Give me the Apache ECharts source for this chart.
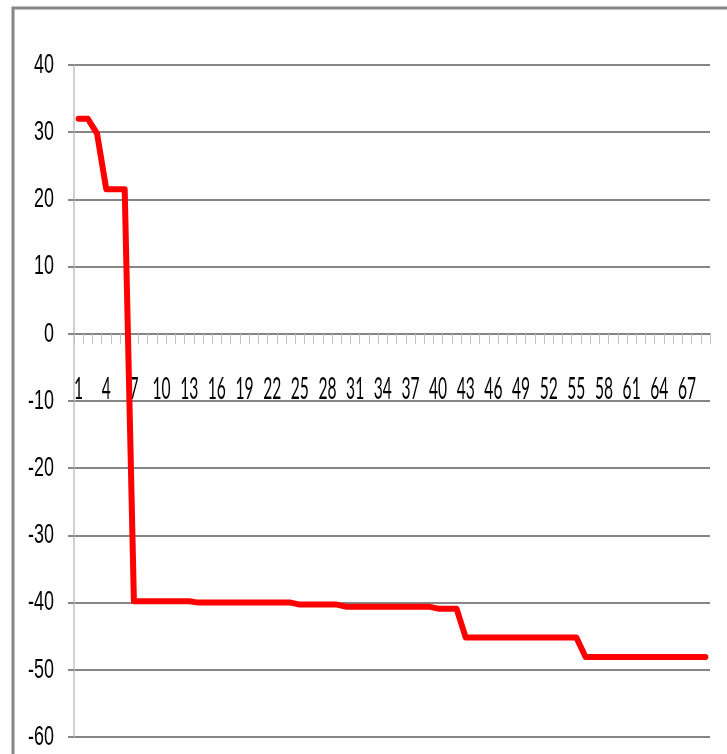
<!DOCTYPE html>
<html>
<head>
<meta charset="utf-8">
<script src="https://cdn.jsdelivr.net/npm/echarts@6/dist/echarts.min.js"></script>
<style>
  html, body { margin: 0; padding: 0; background: #ffffff; }
  #chart { width: 727px; height: 754px; }
</style>
</head>
<body>
<div id="chart"></div>
<script>
// Category positions 1..69 along the horizontal axis
const categories = [];
for (let i = 1; i <= 69; i++) categories.push(String(i));

// Series values, one per category
const values = [
  32, 32, 29.8, 21.5, 21.5, 21.5,
  -39.8, -39.8, -39.8, -39.8, -39.8, -39.8, -39.8,
  -40.0, -40.0, -40.0, -40.0, -40.0, -40.0, -40.0, -40.0, -40.0, -40.0, -40.0,
  -40.3, -40.3, -40.3, -40.3, -40.3,
  -40.6, -40.6, -40.6, -40.6, -40.6, -40.6, -40.6, -40.6, -40.6, -40.6,
  -40.9, -40.9, -40.9,
  -45.2, -45.2, -45.2, -45.2, -45.2, -45.2, -45.2, -45.2, -45.2, -45.2, -45.2, -45.2, -45.2,
  -48.1, -48.1, -48.1, -48.1, -48.1, -48.1, -48.1, -48.1, -48.1, -48.1, -48.1, -48.1, -48.1, -48.1
];

// Value axis range and tick labels
const yMin = -60;
const yMax = 40;
const yStep = 10;
const yTickLabels = ['-60', '-50', '-40', '-30', '-20', '-10', '0', '10', '20', '30', '40'];

// Every third category carries a label
const xLabelStep = 3;

const GRID = { left: 74, right: 17, top: 65, bottom: 17 };

const chart = echarts.init(document.getElementById('chart'), null, { renderer: 'canvas' });

chart.setOption({
  animation: false,
  backgroundColor: '#ffffff',
  grid: Object.assign({ containLabel: false, outerBoundsMode: 'none' }, GRID),
  xAxis: {
    type: 'category',
    data: categories,
    boundaryGap: true,
    axisLine: { show: true, onZero: true, lineStyle: { color: '#868686', width: 2 } },
    axisTick: { show: true, interval: 0, length: 10, lineStyle: { color: '#c0c0c0', width: 1 } },
    axisLabel: { show: false },
    splitLine: { show: false }
  },
  yAxis: {
    type: 'value',
    min: yMin,
    max: yMax,
    interval: yStep,
    axisLine: { show: true, lineStyle: { color: '#c0c0c0', width: 1.5 } },
    axisTick: { show: true, length: 6, lineStyle: { color: '#868686', width: 2 } },
    axisLabel: { show: false },
    splitLine: { show: true, lineStyle: { color: '#868686', width: 2 } }
  },
  series: [{
    type: 'line',
    data: values,
    symbol: 'none',
    smooth: false,
    lineStyle: { color: '#ff0000', width: 6, cap: 'round', join: 'round' },
    z: 5
  }]
});

// Tick labels in a narrow face: placed through the axes' own scales and
// squeezed horizontally.
const graphics = [{
  type: 'rect',
  shape: { x: 13, y: 8, width: 900, height: 900 },
  style: { fill: 'none', stroke: '#868686', lineWidth: 3 },
  silent: true
}];

yTickLabels.forEach(function (txt) {
  const v = Number(txt);
  const py = chart.convertToPixel({ yAxisIndex: 0 }, v);
  graphics.push({
    type: 'text',
    x: GRID.left - 20,
    y: py,
    scaleX: 0.64,
    silent: true,
    style: {
      text: txt,
      font: '28px "Liberation Sans", Arial, sans-serif',
      fill: '#000000',
      textAlign: 'right',
      textVerticalAlign: 'middle'
    }
  });
});

const zeroY = chart.convertToPixel({ yAxisIndex: 0 }, 0);
for (let i = 0; i < categories.length; i += xLabelStep) {
  const px = chart.convertToPixel({ xAxisIndex: 0 }, i);
  graphics.push({
    type: 'text',
    x: px,
    y: zeroY + 56,
    scaleX: 0.52,
    silent: true,
    style: {
      text: categories[i],
      font: '30px Lato, "Open Sans", sans-serif',
      fill: '#000000',
      textAlign: 'center',
      textVerticalAlign: 'middle'
    }
  });
}

chart.setOption({ graphic: graphics });
</script>
</body>
</html>
